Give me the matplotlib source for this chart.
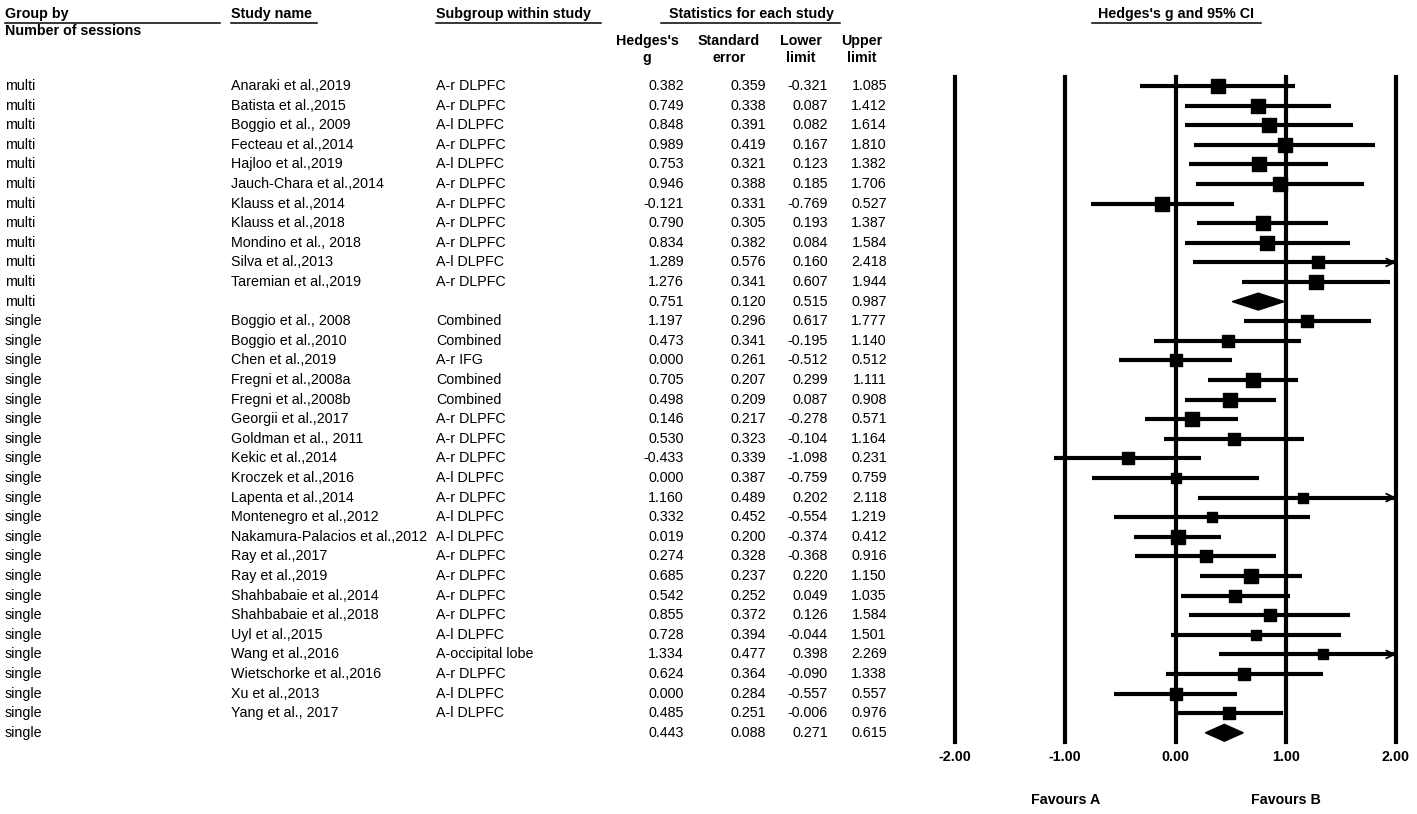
import matplotlib
matplotlib.use("Agg")
import matplotlib.pyplot as plt
import matplotlib.transforms as mtransforms
from matplotlib.lines import Line2D
from matplotlib.patches import Polygon
import numpy as np

plt.rcParams['font.family'] = ['Liberation Sans', 'DejaVu Sans']

# datos del forest plot
grupo = ["multi"] * 12 + ["single"] * 22
estudio = ["Anaraki et al.,2019", "Batista et al.,2015", "Boggio et al., 2009", "Fecteau et al.,2014",
           "Hajloo et al.,2019", "Jauch-Chara et al.,2014", "Klauss et al.,2014", "Klauss et al.,2018",
           "Mondino et al., 2018", "Silva et al.,2013", "Taremian et al.,2019", "",
           "Boggio et al., 2008", "Boggio et al.,2010", "Chen et al.,2019", "Fregni et al.,2008a",
           "Fregni et al.,2008b", "Georgii et al.,2017", "Goldman et al., 2011", "Kekic et al.,2014",
           "Kroczek et al.,2016", "Lapenta et al.,2014", "Montenegro et al.,2012",
           "Nakamura-Palacios et al.,2012", "Ray et al.,2017", "Ray et al.,2019",
           "Shahbabaie et al.,2014", "Shahbabaie et al.,2018", "Uyl et al.,2015", "Wang et al.,2016",
           "Wietschorke et al.,2016", "Xu et al.,2013", "Yang et al., 2017", ""]
subgrupo = ["A-r DLPFC", "A-r DLPFC", "A-l DLPFC", "A-r DLPFC", "A-l DLPFC", "A-r DLPFC", "A-r DLPFC",
            "A-r DLPFC", "A-r DLPFC", "A-l DLPFC", "A-r DLPFC", "",
            "Combined", "Combined", "A-r IFG", "Combined", "Combined", "A-r DLPFC", "A-r DLPFC",
            "A-r DLPFC", "A-l DLPFC", "A-r DLPFC", "A-l DLPFC", "A-l DLPFC", "A-r DLPFC", "A-r DLPFC",
            "A-r DLPFC", "A-r DLPFC", "A-l DLPFC", "A-occipital lobe", "A-r DLPFC", "A-l DLPFC",
            "A-l DLPFC", ""]
g = [0.382, 0.749, 0.848, 0.989, 0.753, 0.946, -0.121, 0.790, 0.834, 1.289, 1.276, 0.751,
     1.197, 0.473, 0.000, 0.705, 0.498, 0.146, 0.530, -0.433, 0.000, 1.160, 0.332, 0.019,
     0.274, 0.685, 0.542, 0.855, 0.728, 1.334, 0.624, 0.000, 0.485, 0.443]
se = [0.359, 0.338, 0.391, 0.419, 0.321, 0.388, 0.331, 0.305, 0.382, 0.576, 0.341, 0.120,
      0.296, 0.341, 0.261, 0.207, 0.209, 0.217, 0.323, 0.339, 0.387, 0.489, 0.452, 0.200,
      0.328, 0.237, 0.252, 0.372, 0.394, 0.477, 0.364, 0.284, 0.251, 0.088]
inf = [-0.321, 0.087, 0.082, 0.167, 0.123, 0.185, -0.769, 0.193, 0.084, 0.160, 0.607, 0.515,
       0.617, -0.195, -0.512, 0.299, 0.087, -0.278, -0.104, -1.098, -0.759, 0.202, -0.554, -0.374,
       -0.368, 0.220, 0.049, 0.126, -0.044, 0.398, -0.090, -0.557, -0.006, 0.271]
sup = [1.085, 1.412, 1.614, 1.810, 1.382, 1.706, 0.527, 1.387, 1.584, 2.418, 1.944, 0.987,
       1.777, 1.140, 0.512, 1.111, 0.908, 0.571, 1.164, 0.231, 0.759, 2.118, 1.219, 0.412,
       0.916, 1.150, 1.035, 1.584, 1.501, 2.269, 1.338, 0.557, 0.976, 0.615]
resumen = [11, 33]  # filas con el total del subgrupo
ticks = [-2, -1, 0, 1, 2]
tick_labels = ["-2.00", "-1.00", "0.00", "1.00", "2.00"]

W, H = 1417, 814
fs = 10.3
fig = plt.figure(figsize=(W / 100, H / 100), dpi=100)

def fx(px):
    return px / W

def fy(py):
    return 1 - py / H

# ejes del forest plot
ax = fig.add_axes([fx(955), fy(742), fx(1396) - fx(955), fy(77) - fy(742)])
ax.set_xlim(-2, 2)
ax.set_ylim((742 - 86) / 19.6, (77 - 86) / 19.6)
for s in ax.spines.values():
    s.set_visible(False)
ax.set_yticks([])
ax.set_xticks(ticks, tick_labels, fontsize=fs, fontweight="bold")
ax.tick_params(axis="x", length=0, pad=6)

for t in ticks:
    ax.axvline(t, color="black", lw=3, clip_on=False)

# pesos relativos dentro de cada subgrupo -> tamaño del cuadrado
se_arr = np.array(se)
w = 1 / se_arr ** 2
rel = np.zeros(len(g))
for a, b in [(0, 11), (12, 33)]:
    rel[a:b] = w[a:b] / w[a:b].sum()

for i in range(len(g)):
    if i in resumen:
        h = 0.43
        ax.add_patch(Polygon([(inf[i], i), (g[i], i - h), (sup[i], i), (g[i], i + h)],
                             closed=True, color="black", clip_on=False))
        continue
    hi = min(sup[i], 2)
    ax.plot([inf[i], hi], [i, i], color="black", lw=3, solid_capstyle="butt", clip_on=False)
    if sup[i] > 2:
        ax.annotate("", xy=(2, i), xytext=(1.85, i),
                    arrowprops=dict(arrowstyle="->", lw=1.3, color="black",
                                    mutation_scale=14, shrinkA=0, shrinkB=0))
    lado = 15 * (rel[i] / 0.129) ** 0.2
    ax.scatter([g[i]], [i], marker="s", s=(lado * 0.72) ** 2, color="black", zorder=3, clip_on=False)

# columnas de texto
tr = mtransforms.blended_transform_factory(fig.transFigure, ax.transData)
for i in range(len(g)):
    ax.text(fx(5), i, grupo[i], transform=tr, fontsize=fs, va="center", ha="left")
    ax.text(fx(231), i, estudio[i], transform=tr, fontsize=fs, va="center", ha="left")
    ax.text(fx(436), i, subgrupo[i], transform=tr, fontsize=fs, va="center", ha="left")
    ax.text(fx(684), i, f"{g[i]:.3f}", transform=tr, fontsize=fs, va="center", ha="right")
    ax.text(fx(766), i, f"{se[i]:.3f}", transform=tr, fontsize=fs, va="center", ha="right")
    ax.text(fx(828), i, f"{inf[i]:.3f}", transform=tr, fontsize=fs, va="center", ha="right")
    ax.text(fx(887), i, f"{sup[i]:.3f}", transform=tr, fontsize=fs, va="center", ha="right")

# encabezados
fig.text(fx(5), fy(14), "Group by", fontsize=fs, fontweight="bold", va="center")
fig.text(fx(5), fy(31), "Number of sessions", fontsize=fs, fontweight="bold", va="center")
fig.text(fx(231), fy(14), "Study name", fontsize=fs, fontweight="bold", va="center")
fig.text(fx(436), fy(14), "Subgroup within study", fontsize=fs, fontweight="bold", va="center")
fig.text(fx(751), fy(14), "Statistics for each study", fontsize=fs, fontweight="bold",
         va="center", ha="center")
fig.text(fx(1176), fy(14), "Hedges's g and 95% CI", fontsize=fs, fontweight="bold",
         va="center", ha="center")
for x, l1, l2 in [(647, "Hedges's", "g"), (729, "Standard", "error"), (801, "Lower", "limit"),
                  (862, "Upper", "limit")]:
    fig.text(fx(x), fy(41), l1, fontsize=fs, fontweight="bold", va="center", ha="center")
    fig.text(fx(x), fy(58), l2, fontsize=fs, fontweight="bold", va="center", ha="center")

for x0, x1 in [(5, 220), (231, 317), (436, 601), (661, 840), (1092, 1261)]:
    fig.add_artist(Line2D([fx(x0), fx(x1)], [fy(23), fy(23)], color="black", lw=1.1,
                          transform=fig.transFigure))

trx = mtransforms.blended_transform_factory(ax.transData, fig.transFigure)
ax.text(-1, fy(800), "Favours A", transform=trx, fontsize=fs, fontweight="bold", ha="center", va="center")
ax.text(1, fy(800), "Favours B", transform=trx, fontsize=fs, fontweight="bold", ha="center", va="center")

fig.savefig("out.png", dpi=100)
